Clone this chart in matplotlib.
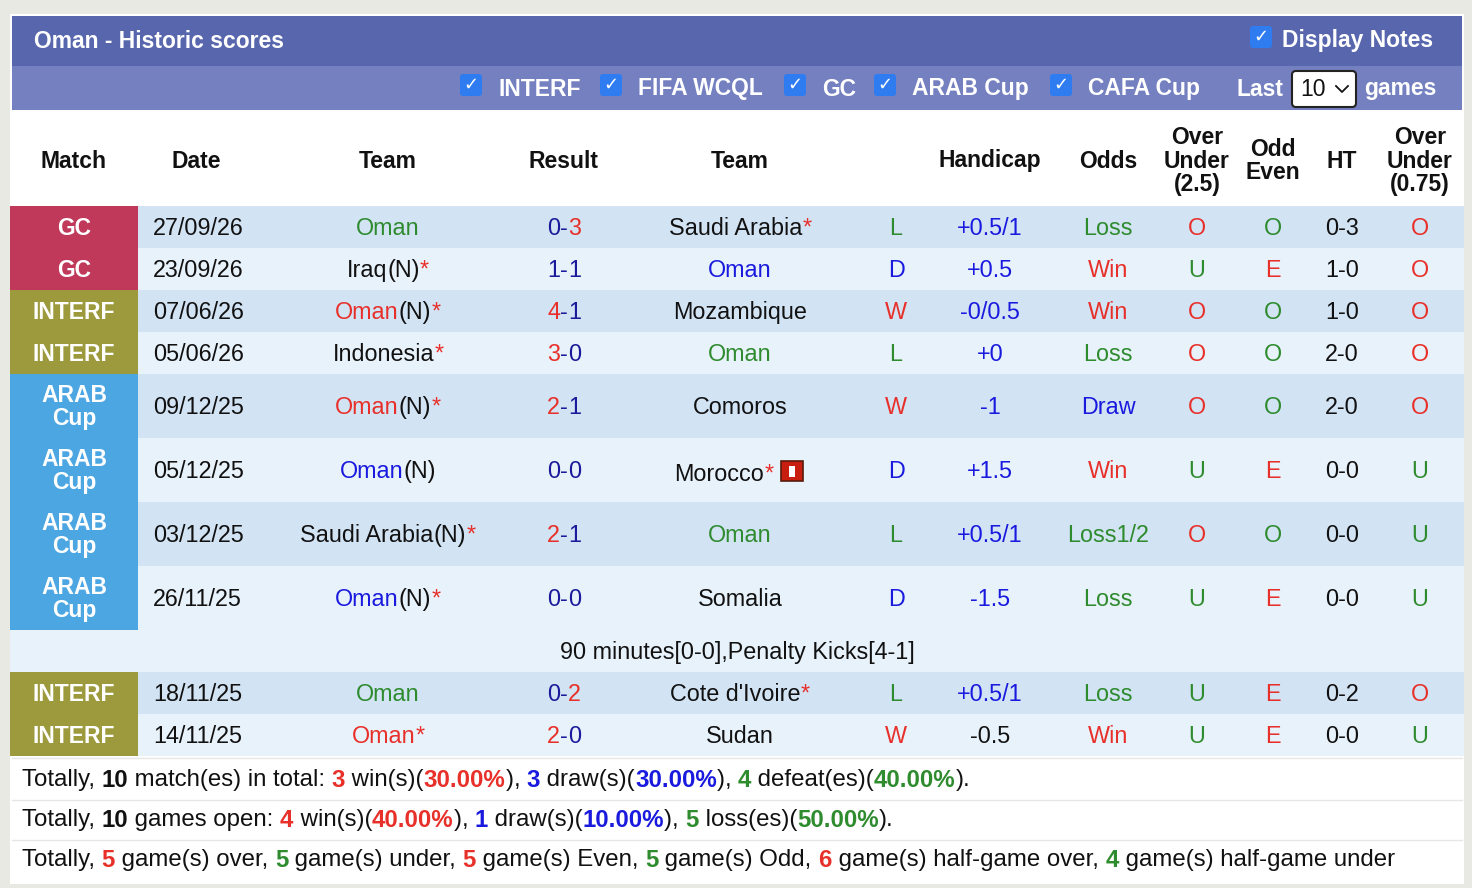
import matplotlib
matplotlib.use("Agg")
import matplotlib.pyplot as plt
from matplotlib.patches import Rectangle, FancyBboxPatch

plt.rcParams['font.family'] = ['Liberation Sans', 'DejaVu Sans']

RED = '#e8302a'; GREEN = '#2e8b2e'; BLUE = '#1a1adf'; BLK = '#111111'; NAVY = '#1a1a9a'

match_types = ["GC", "GC", "INTERF", "INTERF", "ARAB\nCup", "ARAB\nCup", "ARAB\nCup", "ARAB\nCup", "INTERF", "INTERF"]
dates = ["27/09/26", "23/09/26", "07/06/26", "05/06/26", "09/12/25", "05/12/25", "03/12/25", "26/11/25", "18/11/25", "14/11/25"]
home_names = ["Oman", "Iraq", "Oman", "Indonesia", "Oman", "Oman", "Saudi Arabia", "Oman", "Oman", "Oman"]
home_colors = ["g", "k", "r", "k", "r", "b", "k", "b", "g", "r"]
home_neutral = [False, True, True, False, True, True, True, True, False, False]
home_star = [False, True, True, True, True, False, True, True, False, True]
home_goals = [0, 1, 4, 3, 2, 0, 2, 0, 0, 2]
away_goals = [3, 1, 1, 0, 1, 0, 1, 0, 2, 0]
away_names = ["Saudi Arabia", "Oman", "Mozambique", "Oman", "Comoros", "Morocco", "Oman", "Somalia", "Cote d'Ivoire", "Sudan"]
away_colors = ["k", "b", "k", "g", "k", "k", "g", "k", "k", "k"]
away_star = [True, False, False, False, False, True, False, False, True, False]
wld = ["L", "D", "W", "L", "W", "D", "L", "D", "L", "W"]
handicap = ["+0.5/1", "+0.5", "-0/0.5", "+0", "-1", "+1.5", "+0.5/1", "-1.5", "+0.5/1", "-0.5"]
handicap_colors = ["b", "b", "b", "b", "b", "b", "b", "b", "b", "k"]
odds = ["Loss", "Win", "Win", "Loss", "Draw", "Win", "Loss1/2", "Loss", "Loss", "Win"]
ou25 = ["O", "U", "O", "O", "O", "U", "O", "U", "U", "U"]
oddeven = ["O", "E", "O", "O", "O", "E", "O", "E", "E", "E"]
ht = ["0-3", "1-0", "1-0", "2-0", "2-0", "0-0", "0-0", "0-0", "0-2", "0-0"]
ou075 = ["O", "O", "O", "O", "O", "U", "U", "U", "O", "U"]
note_after_row = 7
note_text = "90 minutes[0-0],Penalty Kicks[4-1]"

CMAP = {"g": GREEN, "k": BLK, "r": RED, "b": BLUE}
TYPE_COL = {"GC": '#c0395a', "INTERF": '#9c9a3c', "ARAB\nCup": '#4ca6e2'}
WLD_COL = {"W": RED, "D": BLUE, "L": GREEN}
ODDS_COL = {"Win": RED, "Loss": GREEN, "Draw": BLUE, "Loss1/2": GREEN}
OU_COL = {"O": RED, "U": GREEN, "E": RED}
OE_COL = {"O": GREEN, "E": RED}

W, H = 1472, 888
fig = plt.figure(figsize=(W / 100, H / 100), dpi=100)
ax = fig.add_axes([0, 0, 1, 1])
ax.set_xlim(0, W); ax.set_ylim(H, 0); ax.axis('off')
fig.patch.set_facecolor('#e9e9e3')
renderer = fig.canvas.get_renderer()

FS = 16.8
HFS = 16.5
SFS = 17.3

def rect(x0, y0, x1, y1, c, **kw):
    ax.add_patch(Rectangle((x0, y0), x1 - x0, y1 - y0, facecolor=c, edgecolor='none', **kw))

def width_of(s, fs, fw):
    t = ax.text(0, 0, s, fontsize=fs, fontweight=fw)
    bb = t.get_window_extent(renderer)
    t.remove()
    return bb.width

def segs(xc, y, parts, fs=FS, ha='center'):
    parts = [(p + ('normal',)) if len(p) == 2 else p for p in parts]
    ws = [width_of(s, fs, fw) for s, _, fw in parts]
    x = xc - sum(ws) / 2 if ha == 'center' else xc
    for (s, c, fw), w in zip(parts, ws):
        ax.text(x, y, s, color=c, fontsize=fs, fontweight=fw, ha='left', va='center')
        x += w
    return x

# panel
rect(10, 14, 1464, 884, 'white')
rect(12, 16, 1462, 66, '#5867ad')
rect(12, 66, 1462, 110, '#7480bf')
ax.text(34, 41, "Oman - Historic scores", color='white', fontsize=HFS, fontweight='bold', va='center')

def checkbox(x, y):
    ax.add_patch(FancyBboxPatch((x, y - 11), 22, 22, boxstyle="round,pad=0,rounding_size=3",
                                facecolor='#2f7bf0', edgecolor='none'))
    ax.text(x + 11, y, "✓", color='white', fontsize=13, fontweight='bold', ha='center', va='center',
            family='DejaVu Sans')

checkbox(1250, 37)
ax.text(1282, 41, "Display Notes", color='white', fontsize=HFS, fontweight='bold', va='center')
for cx, lab in [(460, "INTERF"), (600, "FIFA WCQL"), (784, "GC"), (874, "ARAB Cup"), (1050, "CAFA Cup")]:
    checkbox(cx, 85)
    ax.text(cx + 38, 89, lab, color='white', fontsize=HFS, fontweight='bold', va='center')
ax.text(1236, 89, "Last", color='white', fontsize=HFS, fontweight='bold', va='center')
ax.add_patch(FancyBboxPatch((1292, 71), 64, 36, boxstyle="round,pad=0,rounding_size=4",
                            facecolor='white', edgecolor='#222222', lw=1.5))
ax.text(1300, 89, "10", color=BLK, fontsize=16.5, va='center')
ax.plot([1336, 1342, 1348], [86, 92, 86], color=BLK, lw=1.3)
ax.text(1364, 89, "games", color='white', fontsize=HFS, fontweight='bold', va='center')

# header
cols = [74, 196, 388, 564, 740, 896, 990, 1108, 1197, 1273, 1342, 1420]
heads = ["Match", "Date", "Team", "Result", "Team", "", "Handicap", "Odds", "Over\nUnder\n(2.5)", "Odd\nEven", "HT", "Over\nUnder\n(0.75)"]
for x, h in zip(cols, heads):
    ax.text(x, 161, h, fontsize=HFS, fontweight='bold', ha='center', va='center', linespacing=1.0, color=BLK)

# rows
heights = [42 if "\n" not in t else 64 for t in match_types]
y = 206
bgs = ['#d2e3f4', '#e8f2fb']
for i in range(10):
    h = heights[i]
    y0, y1 = y, y + h
    yc = (y0 + y1) / 2 + 1
    rect(10, y0, 1464, y1, bgs[i % 2])
    rect(10, y0, 138, y1, TYPE_COL[match_types[i]])
    ax.text(74, yc, match_types[i], color='white', fontsize=16.5, fontweight='bold', ha='center', va='center', linespacing=1.0)
    ax.text(153, yc, dates[i], color=BLK, fontsize=FS, ha='left', va='center')
    parts = [(home_names[i], CMAP[home_colors[i]])]
    if home_neutral[i]: parts.append(("(N)", BLK))
    if home_star[i]: parts.append(("*", RED))
    segs(388, yc, parts)
    hg, ag = home_goals[i], away_goals[i]
    hc = RED if hg > ag else NAVY
    acol = RED if ag > hg else NAVY
    segs(564, yc, [(str(hg), hc), ("-", NAVY), (str(ag), acol)])
    parts = [(away_names[i], CMAP[away_colors[i]])]
    if away_star[i]: parts.append(("*", RED))
    if away_names[i] == "Morocco":
        xe = segs(724, yc + 3, parts)
        rect(xe + 8, yc - 10, xe + 30, yc + 10, '#c81e10', zorder=3)
        ax.add_patch(Rectangle((xe + 8, yc - 10), 22, 20, facecolor='none', edgecolor='#5a1a0a', lw=1.2, zorder=4))
        rect(xe + 16, yc - 5, xe + 22, yc + 6, 'white', zorder=5)
    else:
        segs(740, yc, parts)
    ax.text(896, yc, wld[i], color=WLD_COL[wld[i]], fontsize=FS, ha='center', va='center')
    ax.text(990, yc, handicap[i], color=CMAP[handicap_colors[i]], fontsize=FS, ha='center', va='center')
    ax.text(1108, yc, odds[i], color=ODDS_COL[odds[i]], fontsize=FS, ha='center', va='center')
    ax.text(1197, yc, ou25[i], color=OU_COL[ou25[i]], fontsize=FS, ha='center', va='center')
    ax.text(1273, yc, oddeven[i], color=OE_COL[oddeven[i]], fontsize=FS, ha='center', va='center')
    ax.text(1342, yc, ht[i], color=BLK, fontsize=FS, ha='center', va='center')
    ax.text(1420, yc, ou075[i], color=OU_COL[ou075[i]], fontsize=FS, ha='center', va='center')
    y = y1
    if i == note_after_row:
        rect(10, y, 1464, y + 42, '#e8f2fb')
        ax.text(737, y + 22, note_text, color=BLK, fontsize=FS, ha='center', va='center')
        y += 42

# summary
rect(10, y + 2, 1464, 884, 'white')
for yy in [y + 2, 800, 840]:
    ax.plot([12, 1462], [yy, yy], color='#e6e6e6', lw=1)
n = len(wld)
nw, nd, nl = wld.count("W"), wld.count("D"), wld.count("L")
ow = sum(o.startswith("Win") for o in odds); od = odds.count("Draw"); ol = sum(o.startswith("Loss") for o in odds)
B = 'bold'
segs(22, 780, [("Totally, ", BLK), (str(n), BLK, B), (" match(es) in total: ", BLK), (str(nw), RED, B), (" win(s)(", BLK),
               (f"{nw / n * 100:.2f}%", RED, B), ("), ", BLK), (str(nd), BLUE, B), (" draw(s)(", BLK), (f"{nd / n * 100:.2f}%", BLUE, B),
               ("), ", BLK), (str(nl), GREEN, B), (" defeat(es)(", BLK), (f"{nl / n * 100:.2f}%", GREEN, B), (").", BLK)], fs=SFS, ha='left')
segs(22, 820, [("Totally, ", BLK), (str(n), BLK, B), (" games open: ", BLK), (str(ow), RED, B), (" win(s)(", BLK),
               (f"{ow / n * 100:.2f}%", RED, B), ("), ", BLK), (str(od), BLUE, B), (" draw(s)(", BLK), (f"{od / n * 100:.2f}%", BLUE, B),
               ("), ", BLK), (str(ol), GREEN, B), (" loss(es)(", BLK), (f"{ol / n * 100:.2f}%", GREEN, B), (").", BLK)], fs=SFS, ha='left')
segs(22, 860, [("Totally, ", BLK), (str(ou25.count("O")), RED, B), (" game(s) over, ", BLK), (str(ou25.count("U")), GREEN, B),
               (" game(s) under, ", BLK), (str(oddeven.count("E")), RED, B), (" game(s) Even, ", BLK),
               (str(oddeven.count("O")), GREEN, B), (" game(s) Odd, ", BLK), (str(ou075.count("O")), RED, B),
               (" game(s) half-game over, ", BLK), (str(ou075.count("U")), GREEN, B), (" game(s) half-game under", BLK)], fs=SFS, ha='left')

fig.savefig("out.png", dpi=100, facecolor=fig.get_facecolor())
